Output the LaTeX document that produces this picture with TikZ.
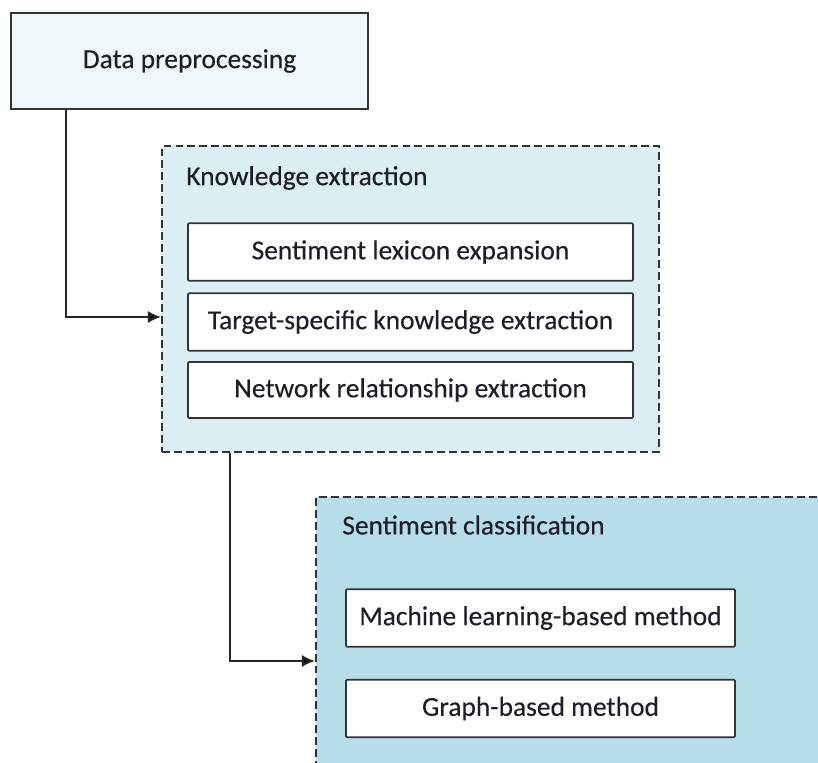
\documentclass[tikz,border=0pt]{standalone}
\usepackage{fontspec}
\setmainfont{Carlito}[FakeBold=0.35]
\usepackage{xcolor}
\usetikzlibrary{arrows.meta}

\definecolor{prepfill}{HTML}{EEF7FA}
\definecolor{extrfill}{HTML}{DAEEF3}
\definecolor{classfill}{HTML}{B7DDE8}
\definecolor{inktext}{HTML}{1E1E2A}

\tikzset{
	stage/.style={draw=black!80,line width=1.1pt,dash pattern=on 4.5pt off 2.3pt},
	method/.style={draw=black!80,line width=1pt,fill=white,rounded corners=0.6pt,
		minimum width=#1,minimum height=1.15cm,inner sep=0pt},
	caption/.style={anchor=west,inner sep=0pt}
}

\begin{document}
\begin{tikzpicture}[x=0.02cm,y=-0.02cm,font=\fontsize{15.6}{18}\selectfont,text=inktext]
	\clip (0,0) rectangle (818,763);
	\useasboundingbox (0,0) rectangle (818,763);
	%
	%  STAGES
	%
	\node (P) at (189.5,61) [draw=black!80,line width=1.1pt,fill=prepfill,
		minimum width=7.14cm,minimum height=1.92cm,inner sep=0pt] {Data preprocessing};
	\node (K) at (410.5,299) [stage,fill=extrfill,minimum width=9.94cm,minimum height=6.12cm,inner sep=0pt] {};
	\node (C) at (616,697) [stage,fill=classfill,minimum width=12cm,minimum height=8cm,inner sep=0pt] {};
	%
	%  TITLES
	%
	\node (KT) at (186,178) [caption] {Knowledge extraction};
	\node (CT) at (342,525) [caption] {Sentiment classification};
	%
	%  METHODS
	%
	\node (K1) at (410.5,252) [method=8.9cm] {Sentiment lexicon expansion};
	\node (K2) at (410.5,322) [method=8.9cm] {Target-specific knowledge extraction};
	\node (K3) at (410.5,390) [method=8.9cm,minimum height=1.12cm] {Network relationship extraction};
	\node (C1) at (540.5,618) [method=7.78cm] {Machine learning-based method};
	\node (C2) at (540.5,708.5) [method=7.78cm] {Graph-based method};
	%
	\path[draw=black!85,line width=1.3pt,>={Latex[length=7.5pt,width=7pt]}]
	([xshift=1.12cm]P.south west) edge[->,to path={|- (\tikztotarget)}] ([yshift=-0.36cm]K.west)
	([xshift=1.38cm]K.south west) edge[->,to path={|- (\tikztotarget)}] ([yshift=0.72cm]C.west);
\end{tikzpicture}
\end{document}
